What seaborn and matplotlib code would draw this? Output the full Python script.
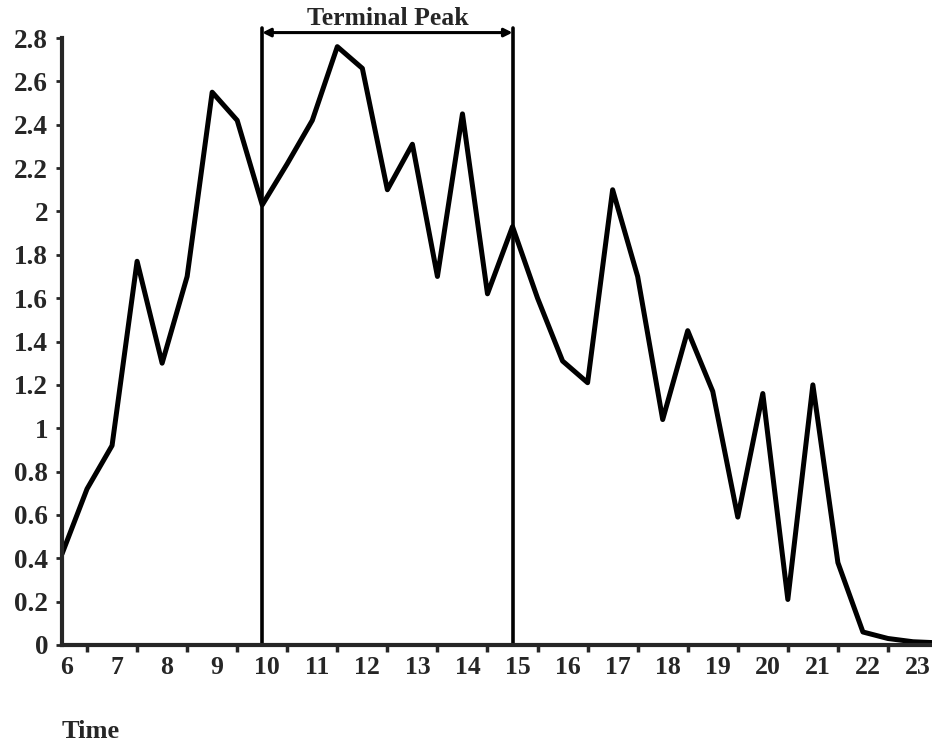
import numpy as np
import pandas as pd
import matplotlib
matplotlib.use("Agg")
import matplotlib.pyplot as plt
import seaborn as sns

# half-hourly readings, 6:00 to 23:30
hours = [6.0, 6.5, 7.0, 7.5, 8.0, 8.5, 9.0, 9.5, 10.0, 10.5, 11.0, 11.5,
         12.0, 12.5, 13.0, 13.5, 14.0, 14.5, 15.0, 15.5, 16.0, 16.5, 17.0, 17.5,
         18.0, 18.5, 19.0, 19.5, 20.0, 20.5, 21.0, 21.5, 22.0, 22.5, 23.0, 23.5]
values = [0.42, 0.72, 0.92, 1.77, 1.30, 1.70, 2.55, 2.42, 2.03, 2.22, 2.42, 2.76,
          2.66, 2.10, 2.31, 1.70, 2.45, 1.62, 1.93, 1.60, 1.31, 1.21, 2.10, 1.70,
          1.04, 1.45, 1.17, 0.59, 1.16, 0.21, 1.20, 0.38, 0.06, 0.03, 0.015, 0.01]
hour_labels = list(range(6, 24))
y_ticks = [0, 0.2, 0.4, 0.6, 0.8, 1, 1.2, 1.4, 1.6, 1.8, 2, 2.2, 2.4, 2.6, 2.8]
peak_start, peak_end = 10.0, 15.0

sns.set_style("ticks")
plt.rcParams["font.family"] = ["Liberation Serif", "DejaVu Serif"]
plt.rcParams["font.weight"] = "bold"

fig = plt.figure(figsize=(9.32, 7.45), dpi=100)
ax = fig.add_axes([62 / 932, 100 / 745, 870 / 932, 607 / 745])

df = pd.DataFrame({"hour": hours, "value": values})
sns.lineplot(data=df, x="hour", y="value", ax=ax, color="black", linewidth=3.6)

# terminal peak markers
for xv in (peak_start, peak_end):
    ax.plot([xv, xv], [0, 2.845], color="black", linewidth=2.6, clip_on=False)
ax.annotate("", xy=(peak_start, 2.825), xytext=(peak_end, 2.825),
            arrowprops=dict(arrowstyle="<|-|>", color="black", lw=2.2,
                            mutation_scale=12, shrinkA=0, shrinkB=0),
            annotation_clip=False)
ax.text((peak_start + peak_end) / 2, 2.858, "Terminal Peak", ha="center",
        va="baseline", fontsize=18.5, fontweight="bold")

ax.set_xlim(6.0, 23.38)
ax.set_ylim(0, 2.8)

# tick marks on the half hours, labels on the hours
ax.set_xticks([h + 0.5 for h in hour_labels[:-1]])
ax.set_xticklabels([])
ax.set_xticks([h + 0.1 for h in hour_labels], minor=True)
ax.set_xticklabels([str(h) for h in hour_labels], minor=True)
ax.tick_params(axis="x", which="major", direction="out", length=5, width=2.5)
ax.tick_params(axis="x", which="minor", length=0, pad=8, labelsize=18.5)

ax.set_yticks(y_ticks)
ax.set_yticklabels([f"{v:g}" for v in y_ticks])
ax.tick_params(axis="y", direction="out", length=4, width=2, pad=6, labelsize=19.5)

for lab in ax.get_xticklabels(minor=True) + ax.get_yticklabels():
    lab.set_fontweight("bold")

ax.set_xlabel("")
ax.set_ylabel("")
sns.despine(ax=ax)
ax.spines["left"].set_linewidth(3)
ax.spines["bottom"].set_linewidth(3)

fig.text(62 / 932, 1 - 732 / 745, "Time", ha="left", va="center",
         fontsize=19, fontweight="bold")

fig.savefig("out.png", dpi=100)
plt.close(fig)
